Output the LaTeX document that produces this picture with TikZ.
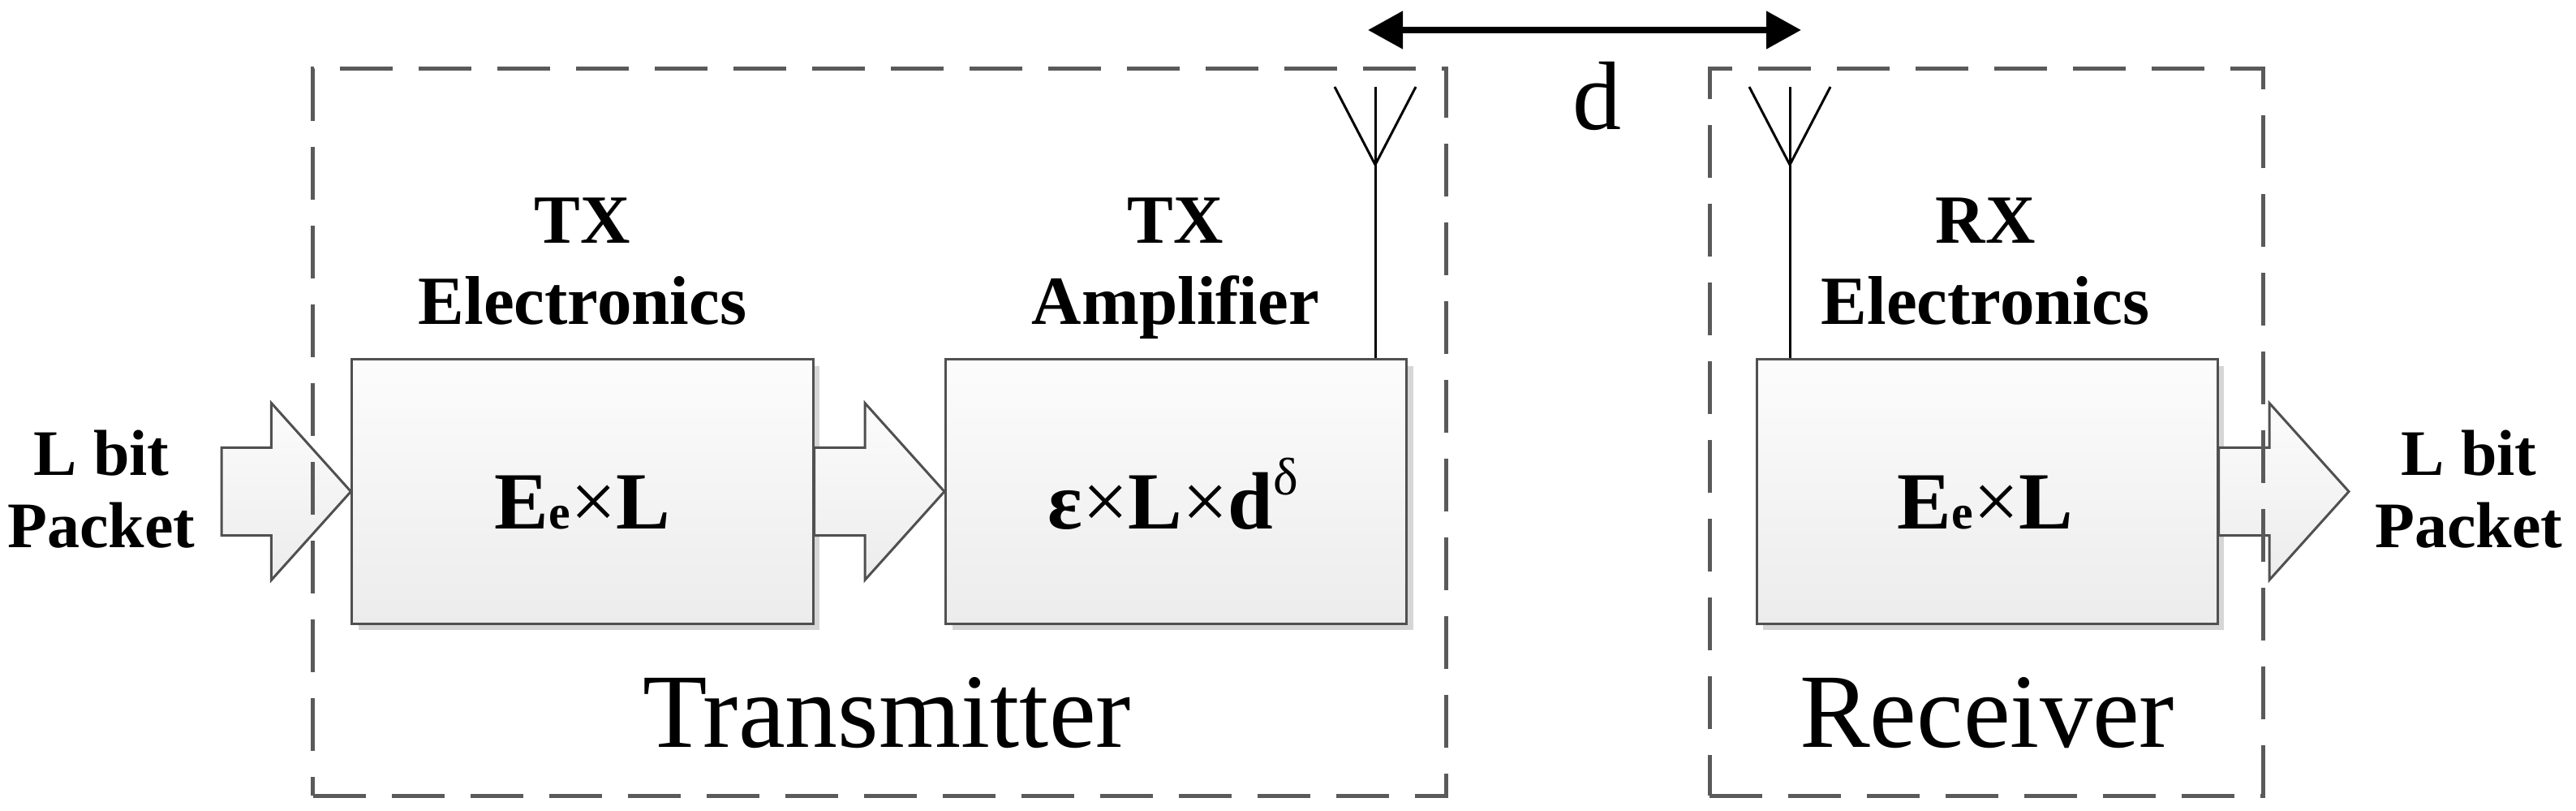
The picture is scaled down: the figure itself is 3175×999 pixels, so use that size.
\documentclass[tikz,border=0pt]{standalone}
\usepackage{fontspec}
\setmainfont{Liberation Serif}
\usetikzlibrary{arrows.meta,shadows,calc}
\definecolor{boxgray}{HTML}{505050}
\definecolor{dashgray}{HTML}{5A5A5A}
\definecolor{shadowgray}{HTML}{D6D6D6}
\definecolor{filltop}{HTML}{FCFCFC}
\definecolor{fillbot}{HTML}{ECECEC}
\newcommand{\myblockarrow}[2]{%
  \begin{scope}[shift={(1.6pt,-1.6pt)}]
    \path let \p1=(#1), \p2=(#2) in [arshadow]
      (\x1,\y1+10.8pt) -- (\x2-19.6pt,\y1+10.8pt) -- (\x2-19.6pt,\y1+21.8pt) -- (\x2,\y1)
      -- (\x2-19.6pt,\y1-21.8pt) -- (\x2-19.6pt,\y1-10.8pt) -- (\x1,\y1-10.8pt) -- cycle;
  \end{scope}
  \path let \p1=(#1), \p2=(#2) in [blkarrow]
    (\x1,\y1+10.8pt) -- (\x2-19.6pt,\y1+10.8pt) -- (\x2-19.6pt,\y1+21.8pt) -- (\x2,\y1)
    -- (\x2-19.6pt,\y1-21.8pt) -- (\x2-19.6pt,\y1-10.8pt) -- (\x1,\y1-10.8pt) -- cycle;
}
\begin{document}
\begin{tikzpicture}[x=0.2pt,y=-0.2pt,
  blk/.style={draw=boxgray, line width=0.6pt, top color=filltop, bottom color=fillbot,
    minimum width=113.6pt, minimum height=65pt, inner sep=0pt,
    drop shadow={shadow xshift=1.6pt, shadow yshift=-1.6pt, fill=shadowgray, opacity=1}},
  grp/.style={draw=dashgray, line width=1pt, dash pattern=on 13pt off 6.4pt,
    minimum height=179pt, inner sep=0pt},
  lbl/.style={font=\fontsize{17pt}{17pt}\selectfont\bfseries, inner sep=0pt, anchor=base},
  pkt/.style={font=\fontsize{16pt}{16pt}\selectfont\bfseries, inner sep=0pt, anchor=base},
  fml/.style={font=\fontsize{20pt}{20pt}\selectfont\bfseries, inner sep=0pt, anchor=base},
  big/.style={font=\fontsize{26pt}{26pt}\selectfont, inner sep=0pt, anchor=base},
  dlbl/.style={font=\fontsize{24pt}{24pt}\selectfont, inner sep=0pt, anchor=base},
  blkarrow/.style={draw=boxgray, line width=0.6pt, top color=filltop, bottom color=fillbot, line join=miter},
  arshadow/.style={fill=shadowgray},
  ant/.style={draw=black, line width=0.6pt, line join=round},
  dimarrow/.style={line width=1.6pt, {Triangle[length=8.6pt,width=9pt]}-{Triangle[length=8.6pt,width=9pt]}}
]
\useasboundingbox (0,0) rectangle (3175,999);

% boxes
\node[blk] (b1) at (718,605.5) {};
\node[blk] (b2) at (1449.5,605.5) {};
\node[blk] (b3) at (2449,605.5) {};

% block arrows
\coordinate (pin) at (273,605.5);
\coordinate (pout) at (2895,605.5);
\myblockarrow{pin}{b1.west}
\myblockarrow{b1.east}{b2.west}
\myblockarrow{b3.east}{pout}

% dashed groups
\node[grp, minimum width=279.2pt] (tx) at (1084,532.5) {};
\node[grp, minimum width=136.4pt] (rx) at (2448,532.5) {};

% antennas
\coordinate (a1) at (1695,107);
\draw[ant] (a1) -- (a1 |- b2.north);
\draw[ant] (a1) ++(-50,0) -- ++(50,96) -- ++(50,-96);
\coordinate (a2) at (2206,107);
\draw[ant] (a2) -- (a2 |- b3.north);
\draw[ant] (a2) ++(-50,0) -- ++(50,96) -- ++(50,-96);

% distance arrow
\coordinate (dL) at (1686,37);
\coordinate (dR) at (2220,37);
\draw[dimarrow] (dL) -- (dR);
\node[dlbl] (dtxt) at (1968,160) {d};

% packet labels
\node[pkt] (inl1) at (125,585) {L bit};
\node[pkt] (inl2) at (125,675) {Packet};
\node[pkt] (outl1) at (3043,585) {L bit};
\node[pkt] (outl2) at (3043,675) {Packet};

% headings
\node[lbl] (h1a) at (718,300) {TX};
\node[lbl] (h1b) at (718,399) {Electronics};
\node[lbl] (h2a) at (1449,300) {TX};
\node[lbl] (h2b) at (1449,399) {Amplifier};
\node[lbl] (h3a) at (2447,300) {RX};
\node[lbl] (h3b) at (2447,399) {Electronics};

% formulas
\node[fml] (f1) at (718,652) {E{\fontsize{12pt}{12pt}\selectfont e}{\mdseries ×}L};
\node[fml] (f2) at (1446,652) {ε{\mdseries ×}L{\mdseries ×}d\raisebox{8.4pt}{\fontsize{13pt}{13pt}\selectfont\mdseries δ}};
\node[fml] (f3) at (2447,652) {E{\fontsize{12pt}{12pt}\selectfont e}{\mdseries ×}L};

% group labels
\node[big] (txl) at (1093,920) {Transmitter};
\node[big] (rxl) at (2449,920) {Receiver};
\end{tikzpicture}
\end{document}
